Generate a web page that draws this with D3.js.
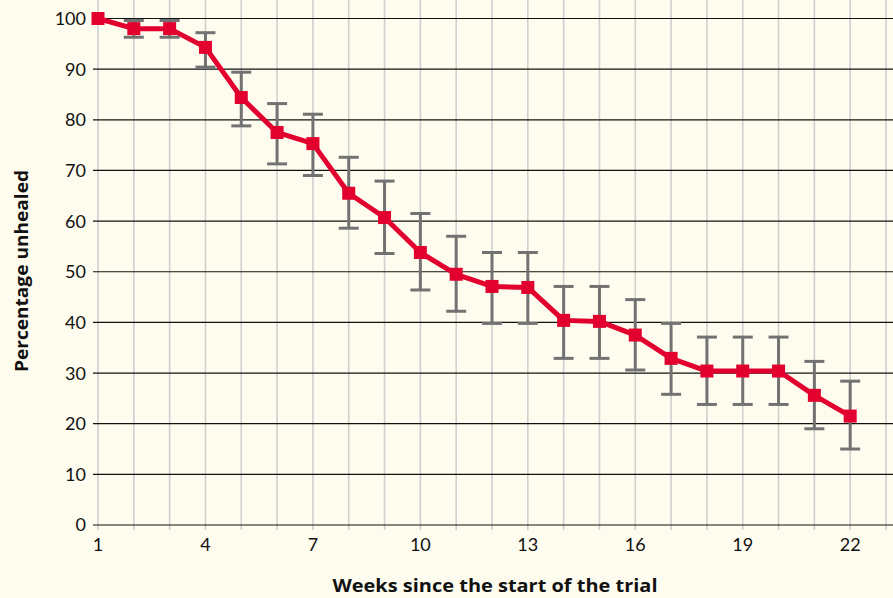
<!DOCTYPE html>
<html lang="en">
  <head>
    <meta charset="utf-8" />
    <title>Percentage unhealed</title>
    <style>
      html,
      body {
        margin: 0;
        padding: 0;
        background-color: #fefcee;
      }
      svg {
        display: block;
        font-family: Lato, 'Open Sans', sans-serif;
      }
    </style>
  </head>
  <body>
    <svg></svg>
    <script src="https://d3js.org/d3.v7.min.js"></script>
    <script type="text/javascript">
      // Data
      let weeks = [1, 2, 3, 4, 5, 6, 7, 8, 9, 10, 11, 12, 13, 14, 15, 16, 17, 18, 19, 20, 21, 22]
      let unhealed = [100, 98, 98, 94.3, 84.4, 77.5, 75.3, 65.5, 60.7, 53.8, 49.5, 47.1, 46.9, 40.4, 40.2, 37.5, 32.9, 30.4, 30.4, 30.4, 25.6, 21.5]
      let upper = [null, 99.6, 99.6, 97.2, 89.4, 83.2, 81.1, 72.6, 67.9, 61.5, 57.0, 53.8, 53.8, 47.1, 47.1, 44.5, 39.8, 37.1, 37.1, 37.1, 32.3, 28.4]
      let lower = [null, 96.3, 96.3, 90.4, 78.8, 71.3, 69.0, 58.6, 53.6, 46.4, 42.2, 39.8, 39.8, 32.9, 32.9, 30.6, 25.8, 23.8, 23.8, 23.8, 19.0, 15.0]
      let xTicks = [1, 4, 7, 10, 13, 16, 19, 22]
      let yTicks = [0, 10, 20, 30, 40, 50, 60, 70, 80, 90, 100]
      let gridWeeks = d3.range(1, 24)

      let width = 893,
        height = 598

      let svg = d3.select('svg').attr('width', width).attr('height', height)

      let x = d3.scaleLinear().domain([1, 23]).range([98, 886])
      let y = d3.scaleLinear().domain([0, 100]).range([525, 18.5])

      // vertical grid
      svg
        .append('g')
        .selectAll('line')
        .data(gridWeeks)
        .join('line')
        .attr('x1', (d) => x(d))
        .attr('x2', (d) => x(d))
        .attr('y1', 0)
        .attr('y2', y(0) + 5)
        .attr('stroke', '#cfcfcf')
        .attr('stroke-width', 1.6)

      // horizontal grid
      svg
        .append('g')
        .selectAll('line')
        .data(yTicks)
        .join('line')
        .attr('x1', x(1) - 5)
        .attr('x2', width)
        .attr('y1', (d) => y(d))
        .attr('y2', (d) => y(d))
        .attr('stroke', '#111')
        .attr('stroke-width', 1.2)

      // y labels
      svg
        .append('g')
        .selectAll('text')
        .data(yTicks)
        .join('text')
        .attr('x', 86)
        .attr('y', (d) => y(d))
        .attr('dy', '0.36em')
        .attr('text-anchor', 'end')
        .attr('font-size', 18)
        .attr('fill', '#111')
        .text((d) => d)

      // x labels
      svg
        .append('g')
        .selectAll('text')
        .data(xTicks)
        .join('text')
        .attr('x', (d) => x(d))
        .attr('y', 551)
        .attr('text-anchor', 'middle')
        .attr('font-size', 18)
        .attr('fill', '#111')
        .text((d) => d)

      // axis titles
      svg
        .append('text')
        .attr('transform', 'translate(28,' + 271 + ') rotate(-90)')
        .attr('text-anchor', 'middle')
        .attr('font-family', "'Open Sans', sans-serif")
        .attr('font-size', 17)
        .attr('font-weight', 'bold')
        .attr('fill', '#111')
        .attr('textLength', 202)
        .attr('lengthAdjust', 'spacingAndGlyphs')
        .text('Percentage unhealed')

      svg
        .append('text')
        .attr('x', 495)
        .attr('y', 592)
        .attr('text-anchor', 'middle')
        .attr('font-family', "'Open Sans', sans-serif")
        .attr('font-size', 17)
        .attr('font-weight', 'bold')
        .attr('fill', '#111')
        .attr('textLength', 325)
        .attr('lengthAdjust', 'spacingAndGlyphs')
        .text('Weeks since the start of the trial')

      let points = weeks.map((w, i) => ({ w: w, v: unhealed[i], hi: upper[i], lo: lower[i] }))
      let bars = points.filter((d) => d.hi != null)

      // error bars
      let eb = svg.append('g').attr('stroke', '#727272').attr('stroke-width', 3)
      eb.selectAll('.stem')
        .data(bars)
        .join('line')
        .attr('x1', (d) => x(d.w))
        .attr('x2', (d) => x(d.w))
        .attr('y1', (d) => y(d.hi))
        .attr('y2', (d) => y(d.lo))
      eb.selectAll('.capHi')
        .data(bars)
        .join('line')
        .attr('x1', (d) => x(d.w) - 10)
        .attr('x2', (d) => x(d.w) + 10)
        .attr('y1', (d) => y(d.hi))
        .attr('y2', (d) => y(d.hi))
      eb.selectAll('.capLo')
        .data(bars)
        .join('line')
        .attr('x1', (d) => x(d.w) - 10)
        .attr('x2', (d) => x(d.w) + 10)
        .attr('y1', (d) => y(d.lo))
        .attr('y2', (d) => y(d.lo))

      // line + markers
      let line = d3
        .line()
        .x((d) => x(d.w))
        .y((d) => y(d.v))

      svg
        .append('path')
        .datum(points)
        .attr('d', line)
        .attr('fill', 'none')
        .attr('stroke', '#e2002e')
        .attr('stroke-width', 5)
        .attr('stroke-linejoin', 'round')

      svg
        .append('g')
        .selectAll('rect')
        .data(points)
        .join('rect')
        .attr('x', (d) => x(d.w) - 6.5)
        .attr('y', (d) => y(d.v) - 6.5)
        .attr('width', 13)
        .attr('height', 13)
        .attr('fill', '#e2002e')
    </script>
  </body>
</html>
